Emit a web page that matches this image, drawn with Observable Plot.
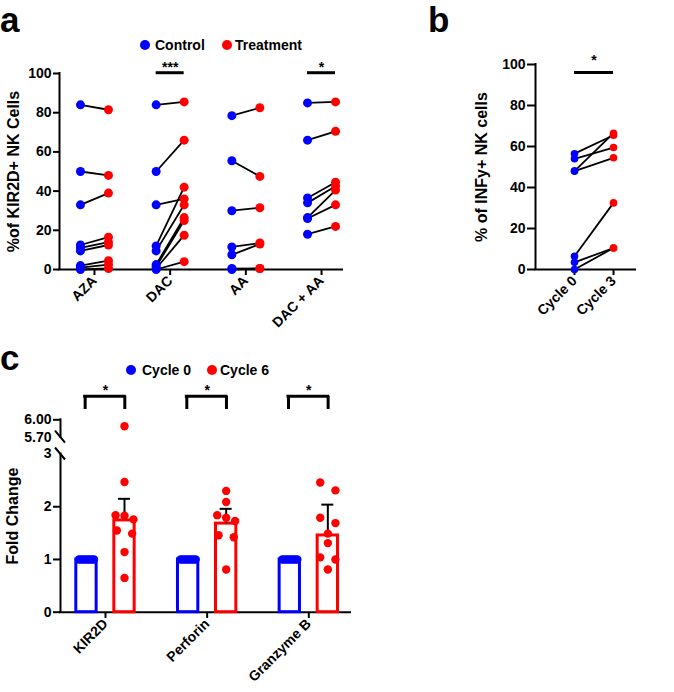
<!DOCTYPE html>
<html><head><meta charset="utf-8">
<script src="https://cdn.jsdelivr.net/npm/d3@7"></script>
<script src="https://cdn.jsdelivr.net/npm/@observablehq/plot@0.6"></script>
<style>
body{margin:0;background:#fff;}
#fig{position:relative;width:674px;height:692px;overflow:hidden;font-family:"Liberation Sans",Arial,sans-serif;font-weight:bold;color:#000;background:#fff;}
.abs{position:absolute;}
.letter{font-size:35px;font-weight:bold;line-height:40px;}
.legtxt{font-size:14px;line-height:18px;white-space:nowrap;}
.dot{width:10px;height:10px;border-radius:50%;}
</style></head><body><div id="fig"></div>
<script>
// ---------- DATA ----------
// Panel a
const groupsA = ["AZA", "DAC", "AA", "DAC + AA"];
const azaControl   = [84, 50, 33, 12.5, 11, 9.5, 2, 1, 0];
const azaTreatment = [81.5, 48, 39, 16.5, 14, 12.5, 4.5, 2.5, 0.5];
const dacControl   = [84, 50, 33, 12, 9.5, 2.5, 1.5, 0.5, 0];
const dacTreatment = [85.5, 66, 36, 42, 33, 26.5, 25, 17.5, 4];
const aaControl    = [78.5, 55.5, 30, 11.5, 7.5, 0.5, 0];
const aaTreatment  = [82.5, 47.5, 31.5, 13.5, 13, 0.5, 0.5];
const dacAaControl   = [85, 66, 36.5, 34, 26.5, 26, 18];
const dacAaTreatment = [85.5, 70.5, 44.5, 42.5, 40.5, 33, 22];
const sigA = [{g: 1, label: "***"}, {g: 3, label: "*"}];
const ticksA = [0, 20, 40, 60, 80, 100];
// Panel b
const groupsB = ["Cycle 0", "Cycle 3"];
const cycle0B = [56.5, 54, 48, 48, 6.5, 3.5, 0];
const cycle3B = [65.5, 59.5, 66.5, 54.5, 32.5, 10.5, 10.5];
const ticksB = [0, 20, 40, 60, 80, 100];
// Panel c
const groupsC = ["KIR2D", "Perforin", "Granzyme B"];
const kirCycle0  = [1, 1, 1, 1, 1, 1, 1, 1];
const kirCycle6  = [5.89, 2.47, 1.83, 1.84, 1.76, 1.55, 1.49, 1.14, 0.65];
const perfCycle0 = [1, 1, 1, 1, 1, 1, 1, 1];
const perfCycle6 = [2.30, 2.09, 1.84, 1.79, 1.73, 1.46, 1.42, 0.81];
const granCycle0 = [1, 1, 1, 1, 1, 1, 1, 1];
const granCycle6 = [2.46, 2.31, 1.79, 1.69, 1.49, 1.31, 1.04, 1.00, 0.81];
const barCycle0 = [1, 1, 1];
const barCycle6 = [1.74, 1.68, 1.455];
const errCycle6 = [2.15, 1.96, 2.04];
const yLabels = ["%of KIR2D+ NK Cells", "% of INFy+ NK cells", "Fold Change"];

// ---------- STYLE ----------
const BLUE = "#0000ff", RED = "#ff0000";
const FONT = "'Liberation Sans', Arial, sans-serif";
const st = {fontFamily: FONT, fontSize: "14px", fontWeight: "bold", background: "transparent", color: "#000", overflow: "visible"};
const fig = document.getElementById("fig");
function place(node, left, top, w, h) {
  const d = document.createElement("div");
  d.className = "abs";
  d.style.left = left + "px"; d.style.top = top + "px";
  if (w) d.style.width = w + "px";
  if (h) d.style.height = h + "px";
  d.appendChild(node);
  fig.appendChild(d);
  return d;
}
function htmlText(txt, cls, left, top) {
  const d = document.createElement("div");
  d.className = "abs " + cls; d.textContent = txt;
  d.style.left = left + "px"; d.style.top = top + "px";
  fig.appendChild(d);
}
function legendDot(color, left, top) {
  const d = document.createElement("div");
  d.className = "abs dot"; d.style.background = color;
  d.style.left = left + "px"; d.style.top = top + "px";
  fig.appendChild(d);
}
// enforce text sizes inside a chart's svg
function fixFonts(svg) {
  d3.select(svg).selectAll("text").each(function () {
    const t = this.textContent;
    const size = yLabels.includes(t) ? 16 : 14;
    this.style.fontSize = size + "px";
    this.style.fontWeight = "bold";
    this.style.fontFamily = FONT;
  });
}

// ---------- PANEL A ----------
const OFF_A = 0.185;
const xDomA = [-0.462, 3.277];
const pairsA = [];
[[azaControl, azaTreatment], [dacControl, dacTreatment], [aaControl, aaTreatment], [dacAaControl, dacAaTreatment]]
  .forEach(([c, t], g) => c.forEach((v, k) => pairsA.push({g, c: v, t: t[k]})));
const chartA = Plot.plot({
  width: 345, height: 330, marginLeft: 59, marginRight: 3, marginTop: 73, marginBottom: 61,
  style: st,
  x: {domain: xDomA},
  y: {domain: [0, 100]},
  marks: [
    Plot.axisY({ticks: ticksA, tickSize: 6, tickPadding: 2, strokeWidth: 2, label: null}),
    Plot.axisX({ticks: [0, 1, 2, 3], tickFormat: i => groupsA[i], tickSize: 6, tickPadding: 3, tickRotate: -45, strokeWidth: 2, label: null}),
    Plot.ruleX([xDomA[0]], {y1: 0, y2: 100, strokeWidth: 2, strokeLinecap: "square"}),
    Plot.ruleY([0], {strokeWidth: 2, strokeLinecap: "square"}),
    Plot.text([yLabels[0]], {frameAnchor: "left", textAnchor: "middle", rotate: -90, dx: -46}),
    Plot.link(pairsA, {x1: d => d.g - OFF_A, x2: d => d.g + OFF_A, y1: "c", y2: "t", stroke: "black", strokeWidth: 1.8}),
    Plot.dot(pairsA, {x: d => d.g - OFF_A, y: "c", r: 4.5, fill: BLUE}),
    Plot.dot(pairsA, {x: d => d.g + OFF_A, y: "t", r: 4.5, fill: RED}),
    Plot.ruleY(sigA, {y: 100.4, x1: d => d.g - OFF_A, x2: d => d.g + OFF_A, strokeWidth: 3}),
    Plot.text(sigA, {x: "g", y: 103.2, text: "label"})
  ]
});
fixFonts(chartA);
place(chartA, 0, 0, 345, 330);
htmlText("a", "letter", 0, 0);
legendDot(BLUE, 140, 40); htmlText("Control", "legtxt", 155, 36);
legendDot(RED, 222, 40); htmlText("Treatment", "legtxt", 235, 36);

// ---------- PANEL B ----------
const xDomB = [-1.0, 1.564];
const pairsB = cycle0B.map((v, k) => ({c: v, t: cycle3B[k]}));
const chartB = Plot.plot({
  width: 294, height: 330, marginLeft: 155, marginRight: 39, marginTop: 64, marginBottom: 61,
  style: st,
  x: {domain: xDomB},
  y: {domain: [0, 100]},
  marks: [
    Plot.axisY({ticks: ticksB, tickSize: 8, tickPadding: 2, strokeWidth: 2, label: null}),
    Plot.axisX({ticks: [0, 1], tickFormat: i => groupsB[i], tickSize: 6, tickPadding: 3, tickRotate: -45, strokeWidth: 2, label: null}),
    Plot.ruleX([xDomB[0]], {y1: 0, y2: 100, strokeWidth: 2, strokeLinecap: "square"}),
    Plot.ruleY([0], {strokeWidth: 2, strokeLinecap: "square"}),
    Plot.text([yLabels[1]], {frameAnchor: "left", textAnchor: "middle", rotate: -90, dx: -54}),
    Plot.link(pairsB, {x1: 0, x2: 1, y1: "c", y2: "t", stroke: "black", strokeWidth: 1.8}),
    Plot.dot(pairsB, {x: 0, y: "c", r: 3.8, fill: BLUE}),
    Plot.dot(pairsB, {x: 1, y: "t", r: 3.8, fill: RED}),
    Plot.ruleY([96.1], {x1: 0, x2: 1, strokeWidth: 3}),
    Plot.text(["*"], {x: 0.5, y: 101.9})
  ]
});
fixFonts(chartB);
place(chartB, 380, 0, 294, 330);
htmlText("b", "letter", 428, 0);

// ---------- PANEL C ----------
const OFF_C = 0.187, HW = 0.1;
const xDomC = [-0.4425, 2.41];
function spread(vals, center) {
  const s = vals.map(v => ({v})).sort((a, b) => b.v - a.v);
  const cl = [];
  for (const d of s) {
    const last = cl[cl.length - 1];
    if (last && last[last.length - 1].v - d.v < 0.15) last.push(d); else cl.push([d]);
  }
  const out = [];
  for (const c of cl) {
    const n = c.length;
    const w = n === 1 ? 0 : n === 2 ? 0.075 : n === 3 ? 0.088 : 0.074;
    c.forEach((d, k) => out.push({x: center + (n === 1 ? 0 : -w + 2 * w * k / (n - 1)), y: d.v}));
  }
  return out;
}
const c0Sets = [kirCycle0, perfCycle0, granCycle0];
const c6Sets = [kirCycle6, perfCycle6, granCycle6];
const dotsC0 = c0Sets.flatMap((vals, g) => spread(vals, g - OFF_C));
const dotsC6 = c6Sets.flatMap((vals, g) => spread(vals, g + OFF_C));
const barsC = groupsC.map((name, g) => ({g, c0: barCycle0[g], c6: barCycle6[g], err: errCycle6[g]}));
const fmtC = d => d > 3 ? d.toFixed(2) : String(d);
const chartC = Plot.plot({
  width: 350, height: 362, marginLeft: 60, marginRight: 0, marginTop: 89, marginBottom: 80,
  style: st,
  x: {domain: xDomC},
  y: {type: "linear", domain: [0, 3, 5.7, 6], range: [281.7, 123.5, 106.7, 89.3]},
  marks: [
    Plot.axisY({ticks: [0, 1, 2, 6], tickFormat: fmtC, tickSize: 7, tickPadding: 2, strokeWidth: 2, label: null}),
    Plot.axisY({ticks: [3, 5.7], tickFormat: fmtC, tickSize: 0, tickPadding: 9, label: null}),
    Plot.axisX({ticks: [0, 1, 2], tickFormat: i => groupsC[i], tickSize: 6, tickPadding: 3, tickRotate: -45, strokeWidth: 2, label: null}),
    Plot.ruleX([xDomC[0]], {y1: 0, y2: 3, strokeWidth: 2, strokeLinecap: "square"}),
    Plot.ruleX([xDomC[0]], {y1: 5.7, y2: 6, strokeWidth: 2, strokeLinecap: "square"}),
    Plot.ruleY([0], {strokeWidth: 2, strokeLinecap: "square"}),
    Plot.text([yLabels[2]], {frameAnchor: "left", textAnchor: "middle", rotate: -90, dx: -48}),
    Plot.rect(barsC, {x1: d => d.g - OFF_C - HW, x2: d => d.g - OFF_C + HW, y1: 0, y2: "c0", fill: "white", stroke: BLUE, strokeWidth: 3}),
    Plot.rect(barsC, {x1: d => d.g + OFF_C - HW, x2: d => d.g + OFF_C + HW, y1: 0, y2: "c6", fill: "white", stroke: RED, strokeWidth: 3}),
    Plot.ruleX(barsC, {x: d => d.g + OFF_C, y1: "c6", y2: "err", strokeWidth: 2}),
    Plot.ruleY(barsC, {y: "err", x1: d => d.g + OFF_C - 0.059, x2: d => d.g + OFF_C + 0.059, strokeWidth: 2}),
    Plot.dot(dotsC0, {x: "x", y: "y", r: 4.2, fill: BLUE}),
    Plot.dot(dotsC6, {x: "x", y: "y", r: 4.2, fill: RED}),
    Plot.ruleY(barsC, {y: 6.407, x1: d => d.g - 0.2, x2: d => d.g + 0.19, strokeWidth: 3, strokeLinecap: "square"}),
    Plot.ruleX(barsC, {x: d => d.g - 0.2, y1: 6.178, y2: 6.407, strokeWidth: 3}),
    Plot.ruleX(barsC, {x: d => d.g + 0.19, y1: 6.178, y2: 6.407, strokeWidth: 3}),
    Plot.text(barsC, {x: "g", y: 6.5, text: () => "*"})
  ]
});
fixFonts(chartC);
// axis-break marks, positioned through the scales
{
  const sx = chartC.scale("x"), sy = chartC.scale("y");
  const ax = sx.apply(xDomC[0]);
  const g = d3.select(chartC).append("g").attr("stroke", "black").attr("stroke-width", 2);
  for (const v of [5.7, 3]) {
    const yy = sy.apply(v);
    g.append("line").attr("x1", ax - 5).attr("y1", yy - 6).attr("x2", ax + 5).attr("y2", yy + 6);
  }
}
place(chartC, 0, 330, 350, 362);
htmlText("c", "letter", 0, 338);
legendDot(BLUE, 126, 365); htmlText("Cycle 0", "legtxt", 142, 361);
legendDot(RED, 207, 365); htmlText("Cycle 6", "legtxt", 220, 361);
</script></body></html>
